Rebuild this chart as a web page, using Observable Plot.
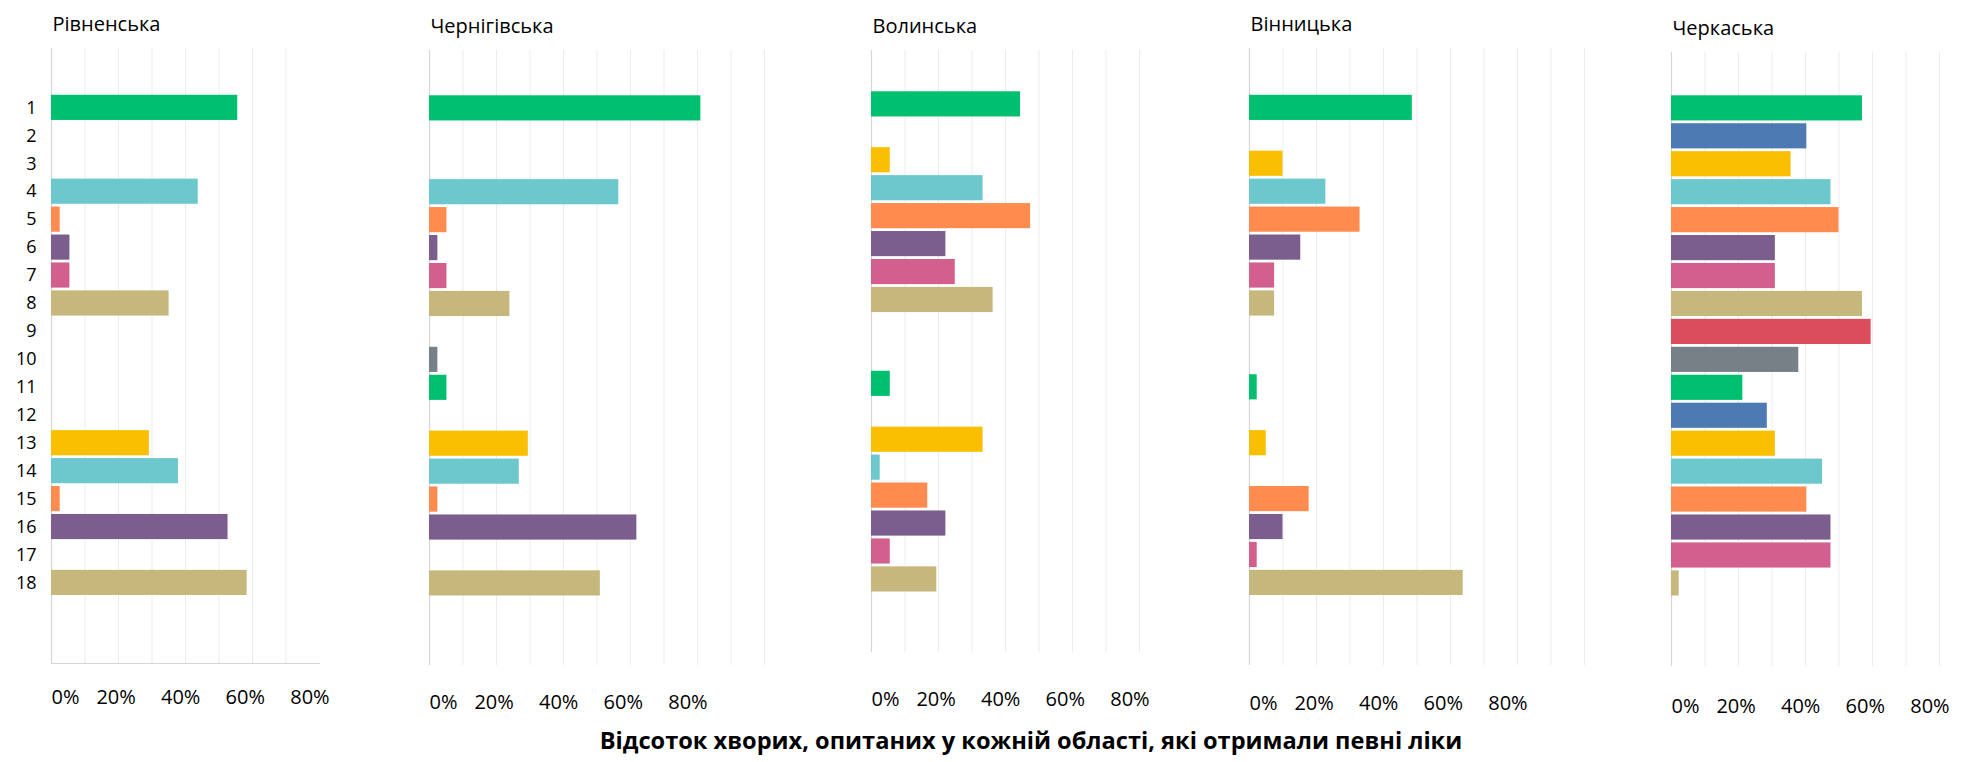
<!DOCTYPE html>
<html>
<head>
<meta charset="utf-8">
<script src="https://cdn.jsdelivr.net/npm/d3@7"></script>
<script src="https://cdn.jsdelivr.net/npm/@observablehq/plot@0.6"></script>
<style>
  body { margin: 0; background: #fff; font-family: "Open Sans", sans-serif; }
  #chart { position: relative; width: 1971px; height: 762px; overflow: hidden; }
  .panel { position: absolute; top: 0; }
  .panel svg { max-width: none !important; }
  #caption {
    position: absolute; left: 431px; width: 1200px; top: 729px;
    text-align: center; font-weight: bold; font-size: 23.6px; line-height: 23.6px; color: #000;
    white-space: nowrap;
  }
</style>
</head>
<body>
<div id="chart"><div id="caption"></div></div>
<script>
// Medicine categories (rows of each panel)
const categories = ["1", "2", "3", "4", "5", "6", "7", "8", "9", "10", "11", "12", "13", "14", "15", "16", "17", "18"];

// Region names, one panel each
const regions = ["Рівненська", "Чернігівська", "Волинська", "Вінницька", "Черкаська"];

// Share of patients (%) who received each medicine, per region
const rivne    = [55.6, 0, 0, 43.8, 2.6, 5.5, 5.5, 35.1, 0, 0, 0, 0, 29.2, 37.9, 2.6, 52.7, 0, 58.4];
const chernihiv = [81.0, 0, 0, 56.5, 5.2, 2.5, 5.2, 24.0, 0, 2.5, 5.2, 0, 29.5, 26.8, 2.5, 61.9, 0, 51.0];
const volyn    = [44.5, 0, 5.6, 33.3, 47.5, 22.2, 25.0, 36.3, 0, 0, 5.6, 0, 33.3, 2.6, 16.8, 22.2, 5.6, 19.5];
const vinnytsia = [48.6, 0, 10.0, 22.8, 33.0, 15.3, 7.5, 7.5, 0, 0, 2.3, 0, 5.0, 0, 17.8, 10.0, 2.3, 63.8];
const cherkasy = [57.0, 40.4, 35.7, 47.6, 50.0, 31.0, 31.0, 57.0, 59.6, 38.0, 21.3, 28.6, 31.0, 45.1, 40.4, 47.6, 47.6, 2.3];

const seriesByRegion = [rivne, chernihiv, volyn, vinnytsia, cherkasy];

// X-axis tick labels
const tickValues = [0, 0.2, 0.4, 0.6, 0.8];

const axisTitle = "Відсоток хворих, опитаних у кожній області, які отримали певні ліки";

// Bar colours cycle every ten categories
const palette = ["#00bf6f", "#4e7ab4", "#f9bf00", "#6cc8cc", "#ff8b4f",
                 "#7b5e8e", "#d25f8e", "#c6b87c", "#db4c5c", "#778087"];

// Panel geometry
const pxPerUnit = 335;
const bandStep = 28.1;
const marginLeft = 50;
const marginRight = 30;
const svgHeight = 720;
const labelShrink = 12;   // tick labels sit slightly left of their gridlines
const layout = [
  {x0: 50.5,   gridTop: 48, gridBottom: 663, xMax: 0.8, gridMax: 0.7, titleBase: 30, labelBase: 703, bandTop: 92,   baseline: true, yAxis: true},
  {x0: 428.7,  gridTop: 50, gridBottom: 665, xMax: 1.0, gridMax: 1.0, titleBase: 32, labelBase: 708, bandTop: 92.5},
  {x0: 871.3,  gridTop: 50, gridBottom: 652, xMax: 0.8, gridMax: 0.8, titleBase: 32, labelBase: 705, bandTop: 88.5},
  {x0: 1248.7, gridTop: 48, gridBottom: 665, xMax: 1.0, gridMax: 1.0, titleBase: 30, labelBase: 709, bandTop: 92},
  {x0: 1670.7, gridTop: 52, gridBottom: 666, xMax: 0.8, gridMax: 0.8, titleBase: 34, labelBase: 712, bandTop: 92.5}
];

const chart = document.getElementById("chart");
document.getElementById("caption").textContent = axisTitle;

regions.forEach((region, i) => {
  const L = layout[i];
  const rows = categories
    .map((c, k) => ({cat: c, value: seriesByRegion[i][k] / 100, color: palette[k % palette.length]}))
    .filter(d => d.value > 0);
  const gridLines = d3.range(1, Math.round(L.gridMax * 10) + 1).map(k => k / 10);
  const fontSize = 20;
  const tickPadding = L.labelBase - L.gridBottom - 0.71 * fontSize;
  const width = Math.ceil(marginLeft + pxPerUnit * L.xMax + marginRight);

  const tickAxes = tickValues.map(t => Plot.axisX([t], {
    anchor: "bottom", tickSize: 0, tickPadding, tickFormat: d3.format(".0%"),
    textAnchor: t === 0 ? "start" : "middle", dx: -labelShrink * t, fontSize, label: null
  }));

  const marks = [
    Plot.ruleX(gridLines, {stroke: "#ebebeb", strokeWidth: 1}),
    Plot.ruleX([0], {stroke: "#d6d6d6", strokeWidth: 1.2}),
    L.baseline ? Plot.frame({anchor: "bottom", stroke: "#d6d6d6"}) : null,
    Plot.barX(rows, {x: "value", y: "cat", fill: "color"}),
    ...tickAxes,
    L.yAxis ? Plot.axisY({anchor: "left", tickSize: 0, tickPadding: 15, fontSize: 18, label: null}) : null,
    Plot.text([region], {frameAnchor: "top-left", text: d => d, textAnchor: "start", lineAnchor: "bottom",
                          dx: 1, dy: L.titleBase - L.gridTop, fontSize})
  ].filter(Boolean);

  const svg = Plot.plot({
    width,
    height: svgHeight,
    marginLeft,
    marginRight,
    marginTop: L.gridTop,
    marginBottom: svgHeight - L.gridBottom,
    x: {domain: [0, L.xMax], axis: null, label: null},
    y: {domain: categories, range: [L.bandTop, L.bandTop + bandStep * categories.length],
        padding: 0.1, round: false, axis: null, label: null},
    style: {fontFamily: "'Open Sans', sans-serif", color: "#000", background: "transparent", overflow: "visible"},
    marks
  });
  const wrap = document.createElement("div");
  wrap.className = "panel";
  wrap.style.left = (L.x0 - marginLeft) + "px";
  wrap.style.width = width + "px";
  wrap.appendChild(svg);
  chart.appendChild(wrap);
});
</script>
</body>
</html>
